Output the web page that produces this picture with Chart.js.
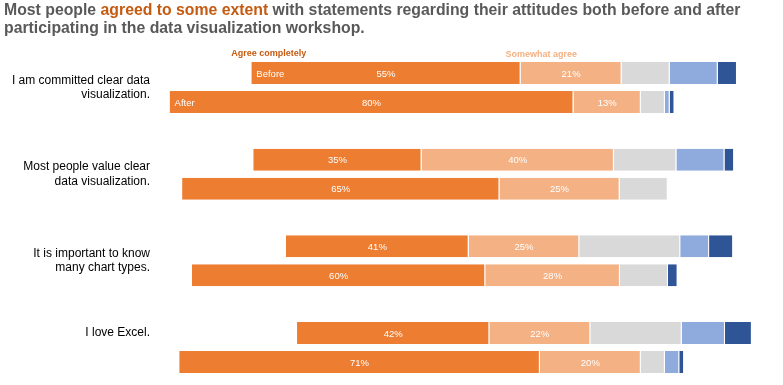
<!DOCTYPE html>
<html>
<head>
<meta charset="utf-8">
<script src="https://cdn.jsdelivr.net/npm/chart.js@4"></script>
<style>
  body { margin: 0; background: #fff; }
  #wrap { position: relative; width: 783px; height: 385px; }
  #title {
    position: absolute; left: 4px; top: 1px;
    font: bold 15.8px "Liberation Sans", Arial, sans-serif;
    line-height: 18px; color: #595959; white-space: nowrap;
  }
  #title span { color: #C55A11; }
</style>
</head>
<body>
<div id="wrap">
  <div id="title">Most people <span>agreed to some extent</span> with statements regarding their attitudes both before and after<br>participating in the data visualization workshop.</div>
  <canvas id="myChart" width="783" height="385"></canvas>
</div>
<script>
// questions (y axis)
var questions = [
  ['I am committed clear data', 'visualization.'],
  ['Most people value clear', 'data visualization.'],
  ['It is important to know', 'many chart types.'],
  ['I love Excel.', '', '']
];

// responses before the workshop (counts)
var spacerBefore        = [19, 19.4, 26.2, 28.5];
var agreeBefore         = [56, 35, 38, 40];
var somewhatAgreeBefore = [21, 40, 23, 21];
var neutralBefore       = [10, 13, 21, 19];
var somewhatDisBefore   = [10, 10, 6, 9];
var disagreeBefore      = [4, 2, 5, 5.6];

// responses after the workshop (counts)
var spacerAfter         = [2, 4.6, 6.65, 4];
var agreeAfter          = [84, 66, 61, 75];
var somewhatAgreeAfter  = [14, 25, 28, 21];
var neutralAfter        = [5, 10, 10, 5];
var somewhatDisAfter    = [1, 0, 0, 3];
var disagreeAfter       = [1, 0, 2, 1];

var colors = ['#ED7D31', '#F4B183', '#D9D9D9', '#8FAADC', '#2F5597'];

function seg(label, data, stack, color) {
  return {
    label: label, data: data, stack: stack,
    backgroundColor: color,
    borderColor: '#ffffff',
    borderWidth: {left: 0, right: 1, top: 0, bottom: 0},
    borderSkipped: false,
    clip: false
  };
}
function spacer(data, stack) {
  return { label: 'spacer', data: data, stack: stack, backgroundColor: 'rgba(0,0,0,0)', borderWidth: 0, clip: false };
}

var datasets = [
  spacer(spacerBefore, 'before'),
  seg('Agree completely', agreeBefore, 'before', colors[0]),
  seg('Somewhat agree', somewhatAgreeBefore, 'before', colors[1]),
  seg('Neutral', neutralBefore, 'before', colors[2]),
  seg('Somewhat disagree', somewhatDisBefore, 'before', colors[3]),
  seg('Disagree', disagreeBefore, 'before', colors[4]),
  spacer(spacerAfter, 'after'),
  seg('Agree completely', agreeAfter, 'after', colors[0]),
  seg('Somewhat agree', somewhatAgreeAfter, 'after', colors[1]),
  seg('Neutral', neutralAfter, 'after', colors[2]),
  seg('Somewhat disagree', somewhatDisAfter, 'after', colors[3]),
  seg('Disagree', disagreeAfter, 'after', colors[4])
];

var groups = {
  before: [agreeBefore, somewhatAgreeBefore, neutralBefore, somewhatDisBefore, disagreeBefore],
  after: [agreeAfter, somewhatAgreeAfter, neutralAfter, somewhatDisAfter, disagreeAfter]
};
function total(stack, i) {
  return groups[stack].reduce(function (s, arr) { return s + arr[i]; }, 0);
}

// percent labels inside the agree segments + small annotations
var labelPlugin = {
  id: 'labels',
  afterDatasetsDraw: function (chart) {
    var c = chart.ctx;
    c.save();
    c.textBaseline = 'middle';
    chart.data.datasets.forEach(function (ds, di) {
      if (ds.label !== 'Agree completely' && ds.label !== 'Somewhat agree') return;
      var meta = chart.getDatasetMeta(di);
      meta.data.forEach(function (el, i) {
        var pct = Math.round(ds.data[i] / total(ds.stack, i) * 100);
        c.fillStyle = '#ffffff';
        c.font = '9.5px "Liberation Sans", Arial, sans-serif';
        c.textAlign = 'center';
        c.fillText(pct + '%', (el.x + el.base) / 2, el.y + 1);
        if (i === 0 && ds.label === 'Agree completely') {
          c.textAlign = 'left';
          c.fillText(ds.stack === 'before' ? 'Before' : 'After', el.base + 5, el.y + 1);
          if (ds.stack === 'before') {
            c.font = 'bold 9px "Liberation Sans", Arial, sans-serif';
            c.fillStyle = '#C55A11';
            c.fillText('Agree completely', el.base - 20, el.y - el.height / 2 - 8);
          }
        }
        if (i === 0 && ds.label === 'Somewhat agree' && ds.stack === 'before') {
          c.textAlign = 'left';
          c.font = 'bold 9px "Liberation Sans", Arial, sans-serif';
          c.fillStyle = '#F4B183';
          c.fillText('Somewhat agree', el.base - 15, el.y - el.height / 2 - 7);
        }
      });
    });
    c.restore();
  }
};

var ctx = document.getElementById('myChart').getContext('2d');
var chart = new Chart(ctx, {
  type: 'bar',
  data: { labels: questions, datasets: datasets },
  plugins: [labelPlugin],
  options: {
    indexAxis: 'y',
    responsive: false,
    animation: false,
    categoryPercentage: 0.669,
    barPercentage: 0.76,
    layout: { padding: { top: 87.5, bottom: 37.5, left: 0, right: 22 } },
    plugins: { legend: { display: false }, tooltip: { enabled: false } },
    scales: {
      x: { stacked: true, min: 0, max: 125, display: false },
      y: {
        stacked: true,
        offset: false,
        grid: { display: false, drawTicks: false },
        border: { display: false },
        ticks: {
          padding: 10,
          color: '#000000',
          font: { family: '"Liberation Sans", Arial, sans-serif', size: 12, lineHeight: 1.2 }
        },
        afterFit: function (scale) { scale.width = 160; }
      }
    }
  }
});
</script>
</body>
</html>
